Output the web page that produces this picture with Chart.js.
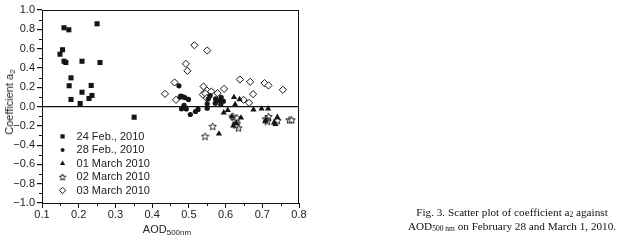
<!DOCTYPE html>
<html>
<head>
<meta charset="utf-8">
<script src="https://cdn.jsdelivr.net/npm/chart.js@4.4.1/dist/chart.umd.min.js"></script>
<style>
  html, body { margin: 0; padding: 0; background: #fff; }
  #wrap { position: relative; width: 625px; height: 250px; overflow: hidden; }
  #c { position: absolute; left: 0; top: 0; }
  .ax { position: absolute; font-family: "Liberation Sans", Arial, sans-serif; font-size: 11px; color: #222; white-space: nowrap; }
  .ax sub { font-size: 8px; vertical-align: -2px; line-height: 0; }
  #ytitle { left: 9px; top: 102px; transform: translate(-50%, -50%) rotate(-90deg); }
  #xtitle { left: 167px; top: 229px; transform: translate(-50%, -50%); }
  #caption { position: absolute; left: 402px; top: 205px; width: 220px; text-align: center; font-family: "Liberation Serif", "Times New Roman", serif; font-size: 11.2px; line-height: 14px; color: #111; white-space: nowrap; }
  #caption sub { font-size: 7.5px; vertical-align: -1px; line-height: 0; }
</style>
</head>
<body>
<div id="wrap">
  <canvas id="c" width="625" height="250"></canvas>
  <div class="ax" id="ytitle">Coefficient a<sub>2</sub></div>
  <div class="ax" id="xtitle">AOD<sub>500nm</sub></div>
  <div id="caption">Fig. 3. Scatter plot of coefficient a<sub>2</sub> against<br>AOD<sub>500 nm</sub> on February 28 and March 1, 2010.</div>
</div>
<script>
// ---- data ----
const seriesNames = ["24 Feb., 2010", "28 Feb., 2010", "01 March 2010", "02 March 2010", "03 March 2010"];

const feb24X = [0.160,0.173,0.250,0.156,0.149,0.160,0.165,0.209,0.258,0.179,0.174,0.234,0.209,0.236,0.228,0.179,0.204,0.351];
const feb24Y = [0.816,0.795,0.857,0.588,0.542,0.469,0.456,0.469,0.456,0.297,0.215,0.218,0.148,0.114,0.083,0.073,0.031,-0.111];

const feb28X = [0.473,0.478,0.484,0.476,0.489,0.499,0.487,0.480,0.493,0.504,0.518,0.525,0.550,0.550,0.553,0.558,0.573,0.588,0.594,0.583,0.572,0.587];
const feb28Y = [0.214,0.108,0.100,0.098,0.092,0.073,0.012,-0.024,-0.026,-0.083,-0.052,-0.030,-0.018,0.028,0.080,0.114,0.080,0.096,0.055,0.062,0.034,0.022];

const mar01X = [0.623,0.638,0.626,0.606,0.595,0.582,0.676,0.698,0.716,0.642,0.617,0.708,0.710,0.732,0.736,0.741,0.629,0.621];
const mar01Y = [0.096,0.073,0.021,-0.038,-0.064,-0.283,-0.032,-0.024,-0.022,-0.117,-0.104,-0.155,-0.140,-0.168,-0.183,-0.111,-0.175,-0.200];

const mar02X = [0.544,0.565,0.620,0.626,0.631,0.635,0.631,0.717,0.710,0.714,0.741,0.774,0.780,0.628];
const mar02Y = [-0.308,-0.205,-0.101,-0.145,-0.173,-0.221,-0.117,-0.104,-0.128,-0.152,-0.145,-0.138,-0.138,-0.190];

const mar03X = [0.515,0.550,0.492,0.496,0.461,0.435,0.465,0.540,0.549,0.561,0.538,0.545,0.578,0.596,0.639,0.667,0.706,0.717,0.756,0.675,0.649,0.664,0.549];
const mar03Y = [0.635,0.580,0.442,0.370,0.249,0.131,0.069,0.207,0.166,0.155,0.124,0.135,0.138,0.183,0.280,0.256,0.242,0.218,0.173,0.128,0.069,0.038,0.086];

const xTicks = [0.1,0.2,0.3,0.4,0.5,0.6,0.7,0.8];
const yTicks = [-1.0,-0.8,-0.6,-0.4,-0.2,0.0,0.2,0.4,0.6,0.8,1.0];

// ---- build ----
function pts(xs, ys) { return xs.map((x, i) => ({ x: x, y: ys[i] })); }

function makeStar(size) {
  const c = document.createElement('canvas');
  c.width = size; c.height = size;
  const g = c.getContext('2d');
  const cx = size / 2, cy = size / 2 + 0.4, ro = size / 2 - 0.6, ri = ro * 0.45;
  g.beginPath();
  for (let i = 0; i < 10; i++) {
    const r = i % 2 ? ri : ro;
    const a = -Math.PI / 2 + i * Math.PI / 5;
    const px = cx + r * Math.cos(a), py = cy + r * Math.sin(a);
    if (i) g.lineTo(px, py); else g.moveTo(px, py);
  }
  g.closePath();
  g.fillStyle = '#fff'; g.fill();
  g.strokeStyle = '#222'; g.lineWidth = 1; g.stroke();
  return c;
}
const starImg = makeStar(9);
const starImgSmall = makeStar(8);

const ink = '#151515';
const datasets = [
  { label: seriesNames[0], data: pts(feb24X, feb24Y), pointStyle: 'rect', pointRadius: 3.6, backgroundColor: ink, borderColor: ink, borderWidth: 0, legendR: 3 },
  { label: seriesNames[1], data: pts(feb28X, feb28Y), pointStyle: 'circle', pointRadius: 2.6, backgroundColor: ink, borderColor: ink, borderWidth: 0, legendR: 2 },
  { label: seriesNames[2], data: pts(mar01X, mar01Y), pointStyle: 'triangle', pointRadius: 3.6, backgroundColor: ink, borderColor: ink, borderWidth: 0, legendR: 3 },
  { label: seriesNames[3], data: pts(mar02X, mar02Y), pointStyle: starImg, pointRadius: 4.5, backgroundColor: '#fff', borderColor: ink, borderWidth: 1, legendImg: starImgSmall },
  { label: seriesNames[4], data: pts(mar03X, mar03Y), pointStyle: 'rectRot', pointRadius: 3.6, backgroundColor: '#fff', borderColor: ink, borderWidth: 1, legendR: 3.2 }
];

const decor = {
  id: 'decor',
  afterDraw(chart) {
    const ctx = chart.ctx, a = chart.chartArea;
    const xs = chart.scales.x, ys = chart.scales.y;
    ctx.save();
    ctx.strokeStyle = '#111';
    ctx.lineWidth = 1;
    // frame
    ctx.strokeRect(Math.round(a.left) + 0.5, Math.round(a.top) + 0.5, Math.round(a.right - a.left) - 1, Math.round(a.bottom - a.top));
    // minor ticks
    ctx.beginPath();
    for (let k = -9; k <= 9; k += 2) {
      const py = Math.round(ys.getPixelForValue(k / 10)) + 0.5;
      ctx.moveTo(a.left - 3, py); ctx.lineTo(a.left, py);
    }
    for (let k = 3; k <= 15; k += 2) {
      const px = Math.round(xs.getPixelForValue(k / 20)) + 0.5;
      ctx.moveTo(px, a.bottom); ctx.lineTo(px, a.bottom + 3);
    }
    ctx.stroke();
    // legend inside plot
    const lx = xs.getPixelForValue(0.156);
    const rows = [-0.31, -0.45, -0.59, -0.73, -0.87];
    ctx.font = '11px "Liberation Sans", Arial, sans-serif';
    ctx.textBaseline = 'middle';
    chart.data.datasets.forEach((ds, i) => {
      const py = ys.getPixelForValue(rows[i]);
      ctx.fillStyle = ds.backgroundColor;
      ctx.strokeStyle = ds.borderColor;
      ctx.lineWidth = ds.borderWidth || 0;
      if (ds.legendImg) {
        Chart.helpers.drawPoint(ctx, { pointStyle: ds.legendImg, radius: 4, borderWidth: 1, rotation: 0 }, lx, py);
      } else {
        Chart.helpers.drawPoint(ctx, { pointStyle: ds.pointStyle, radius: ds.legendR, borderWidth: ds.borderWidth, rotation: 0 }, lx, py);
      }
      ctx.fillStyle = '#222';
      ctx.fillText(ds.label, lx + 14, py + 0.5);
    });
    ctx.restore();
  }
};

new Chart(document.getElementById('c'), {
  type: 'scatter',
  data: { datasets: datasets },
  options: {
    responsive: false,
    animation: false,
    devicePixelRatio: 1,
    layout: { padding: { left: 0, top: 10, right: 326, bottom: 0 } },
    plugins: { legend: { display: false }, tooltip: { enabled: false } },
    scales: {
      x: {
        type: 'linear', min: 0.1, max: 0.8,
        afterFit(s) { s.height = 47; },
        afterBuildTicks(s) { s.ticks = xTicks.map(v => ({ value: v })); },
        ticks: { callback: v => v.toFixed(1), font: { family: '"Liberation Sans", Arial, sans-serif', size: 11 }, color: '#222', padding: 0, maxRotation: 0, autoSkip: false },
        grid: { drawOnChartArea: false, drawTicks: true, tickLength: 5, tickColor: '#111' },
        border: { display: true, color: '#111', width: 1 }
      },
      y: {
        type: 'linear', min: -1, max: 1,
        afterFit(s) { s.width = 42; },
        afterBuildTicks(s) { s.ticks = yTicks.map(v => ({ value: v })); },
        ticks: { callback: v => (Math.abs(v) < 1e-9 ? '0.0' : v.toFixed(1).replace('-', '\u2212')), font: { family: '"Liberation Sans", Arial, sans-serif', size: 11 }, color: '#222', padding: 2, autoSkip: false },
        grid: { drawOnChartArea: true, drawTicks: true, tickLength: 5, tickColor: '#111', lineWidth: 1.2, color: c => (c.tick && Math.abs(c.tick.value) < 1e-9 ? '#111' : 'rgba(0,0,0,0)') },
        border: { display: true, color: '#111', width: 1 }
      }
    }
  },
  plugins: [decor]
});
</script>
</body>
</html>
